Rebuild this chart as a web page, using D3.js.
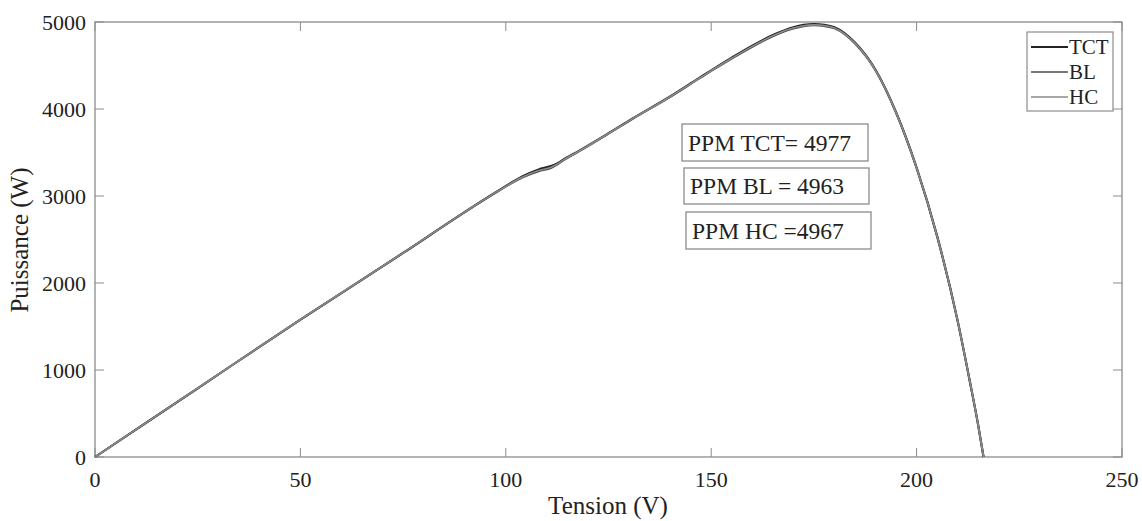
<!DOCTYPE html>
<html><head><meta charset="utf-8">
<script src="https://cdn.jsdelivr.net/npm/d3@7"></script>
<style>body{margin:0;background:#fff}svg{display:block}text{font-family:"Liberation Serif","Times New Roman",serif}</style>
</head><body><svg id="c" width="1142" height="521"></svg>
<script>
const tension = [0,25,50,75,90,98,104,108,111,112.5,114,118,125,131,139,147,150,155,160,165,170,172.5,175,177.5,180,185,190,195,200,205,210,213,215,216.3];
const tct = [0,790,1580,2345,2815,3055,3225,3305,3345,3375,3418,3525,3722,3895,4115,4355,4445,4590,4728,4850,4940,4967,4977,4968,4940,4764,4451,3963,3326,2539,1564,860,364,0];
const bl  = [0,790,1580,2345,2815,3052,3212,3285,3322,3360,3410,3518,3716,3890,4110,4348,4437,4580,4716,4837,4926,4953,4963,4954,4927,4753,4443,3957,3322,2536,1562,859,364,0];
const hc  = [0,790,1580,2345,2815,3053,3216,3292,3330,3365,3413,3520,3718,3892,4112,4350,4440,4583,4720,4841,4930,4957,4967,4958,4931,4757,4446,3959,3324,2537,1563,860,364,0];
const seriesNames = ["TCT","BL","HC"];
const seriesColors = ["#222","#4a4a4a","#8a8a8a"];
const xTicks = [0,50,100,150,200,250];
const yTicks = [0,1000,2000,3000,4000,5000];
const ppmLabels = ["PPM TCT= 4977","PPM BL = 4963","PPM HC =4967"];

const svg = d3.select("#c");
const L=95,R=1122,T=22,B=457;
const x = d3.scaleLinear().domain([0,250]).range([L,R]);
const y = d3.scaleLinear().domain([0,5000]).range([B,T]);
const axisCol="#8c8c8c";

svg.append("rect").attr("x",L).attr("y",T).attr("width",R-L).attr("height",B-T)
  .attr("fill","#fff").attr("stroke",axisCol).attr("stroke-width",1.3);

const tl=9;
const ax = svg.append("g");
xTicks.forEach(v=>{
  ax.append("line").attr("x1",x(v)).attr("x2",x(v)).attr("y1",B).attr("y2",B-tl).attr("stroke",axisCol);
  ax.append("line").attr("x1",x(v)).attr("x2",x(v)).attr("y1",T).attr("y2",T+tl).attr("stroke",axisCol);
  ax.append("text").attr("x",x(v)).attr("y",487).attr("text-anchor","middle").attr("font-size",22).attr("fill","#222").text(v);
});
yTicks.forEach(v=>{
  ax.append("line").attr("x1",L).attr("x2",L+tl).attr("y1",y(v)).attr("y2",y(v)).attr("stroke",axisCol);
  ax.append("line").attr("x1",R).attr("x2",R-tl).attr("y1",y(v)).attr("y2",y(v)).attr("stroke",axisCol);
  ax.append("text").attr("x",86).attr("y",y(v)).attr("dy","0.35em").attr("text-anchor","end").attr("font-size",22).attr("fill","#222").text(v);
});
svg.append("text").attr("x",608).attr("y",514).attr("text-anchor","middle").attr("font-size",25).attr("fill","#222").text("Tension (V)");
svg.append("text").attr("transform","translate(28,240) rotate(-90)").attr("text-anchor","middle").attr("font-size",25).attr("fill","#222").text("Puissance (W)");

const line = d3.line().x(d=>x(d[0])).y(d=>y(d[1])).curve(d3.curveMonotoneX);
[tct,bl,hc].forEach((s,i)=>{
  svg.append("path").attr("d",line(tension.map((t,j)=>[t,s[j]])))
    .attr("fill","none").attr("stroke",seriesColors[i]).attr("stroke-width",i==2?1.6:2.1);
});

const lg = svg.append("g");
lg.append("rect").attr("x",1027).attr("y",32).attr("width",86).attr("height",79).attr("fill","#fff").attr("stroke",axisCol).attr("stroke-width",1.2);
seriesNames.forEach((n,i)=>{
  const yy=47+i*25;
  lg.append("line").attr("x1",1031).attr("x2",1068).attr("y1",yy).attr("y2",yy).attr("stroke",seriesColors[i]).attr("stroke-width",i==0?2:1.5);
  lg.append("text").attr("x",1069).attr("y",yy).attr("dy","0.35em").attr("font-size",21).attr("fill","#222").text(n);
});

const boxes=[[682,124,868,161],[684,168,869,204],[686,212,871,249]];
ppmLabels.forEach((t,i)=>{
  const b=boxes[i];
  svg.append("rect").attr("x",b[0]).attr("y",b[1]).attr("width",b[2]-b[0]).attr("height",b[3]-b[1]).attr("fill","#fff").attr("stroke",axisCol).attr("stroke-width",1.3);
  svg.append("text").attr("x",b[0]+6).attr("y",(b[1]+b[3])/2).attr("dy","0.35em").attr("font-size",23.5).attr("fill","#222").text(t);
});
</script></body></html>
